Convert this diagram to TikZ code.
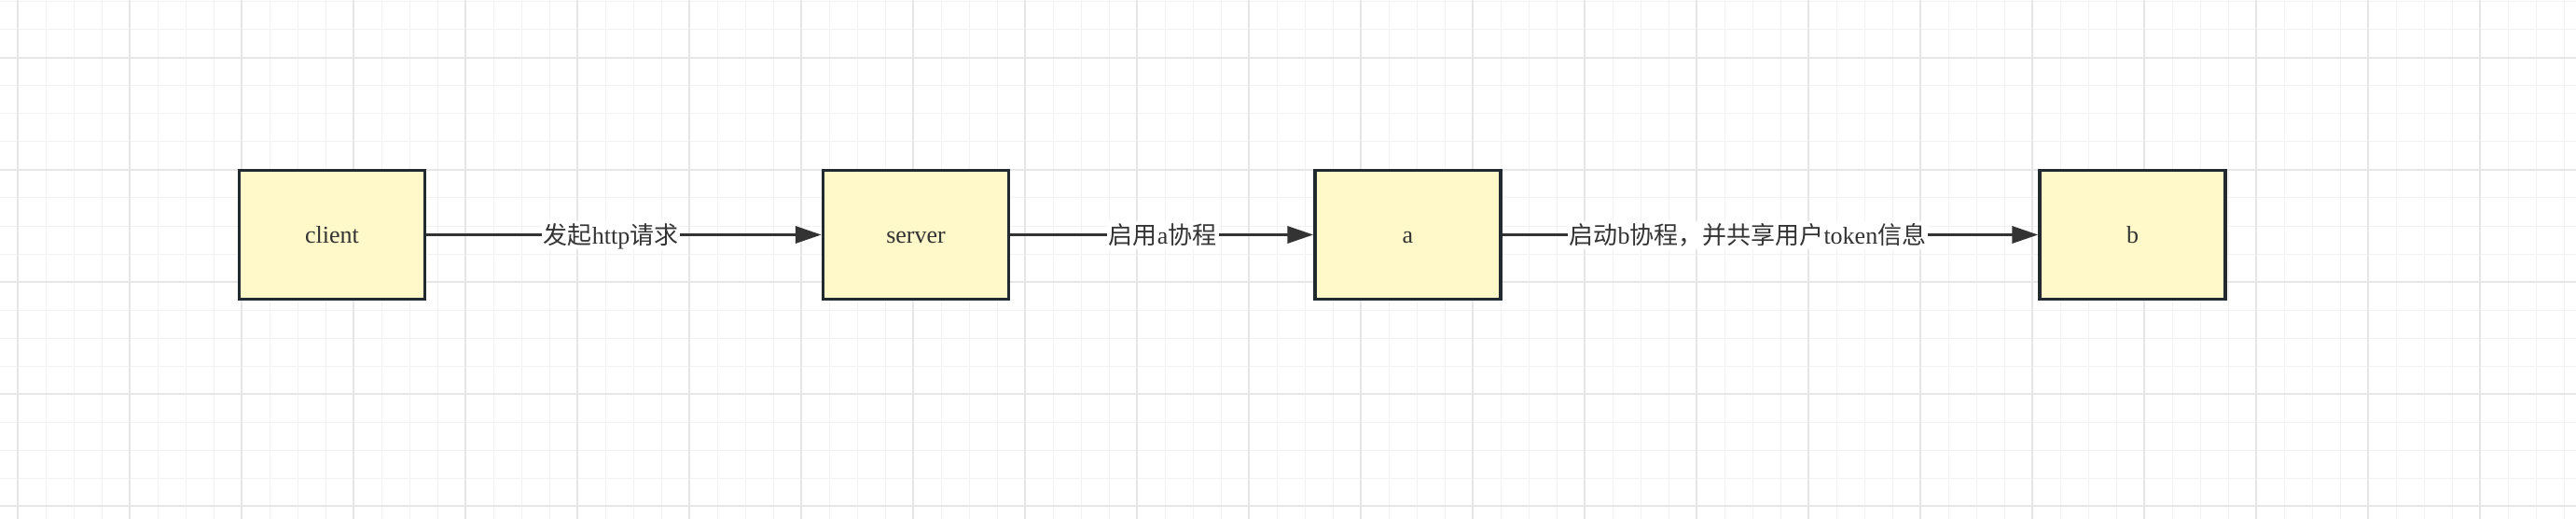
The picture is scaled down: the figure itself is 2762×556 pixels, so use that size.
\documentclass[tikz,border=0pt]{standalone}
\usepackage{fontspec}
\setmainfont{Liberation Serif}
\newfontfamily\cjk{Noto Sans CJK SC}
\usetikzlibrary{arrows.meta}
\definecolor{gridminor}{HTML}{F2F2F2}
\definecolor{gridmajor}{HTML}{E6E6E6}
\definecolor{boxfill}{HTML}{FFF8C9}
\definecolor{boxline}{HTML}{22292F}
\definecolor{txt}{HTML}{333333}
\definecolor{arrcol}{HTML}{333333}
\tikzset{
  procbox/.style={draw=boxline, fill=boxfill, line width=3.5pt, minimum width=199pt, minimum height=138pt, inner sep=0pt, text height=21pt, text depth=4pt, text=txt, font=\fontsize{26}{30}\selectfont},
  flow/.style={draw=arrcol, line width=3.5pt, -{Triangle[length=28pt,width=18pt]}},
  lbl/.style={fill=white, inner sep=2pt, text height=23pt, text depth=3pt, text=txt, font=\fontsize{26}{30}\selectfont},
}
\begin{document}
\begin{tikzpicture}[x=1pt,y=-1pt]
\useasboundingbox (0,0) rectangle (2762,556);
\fill[white] (0,0) rectangle (2762,556);
% grid
\foreach \k in {0,...,91} {\draw[gridminor, line width=1pt] ({19+30*\k},0) -- ({19+30*\k},556);}
\foreach \k in {0,...,18} {\draw[gridminor, line width=1pt] (0,{2+30*\k}) -- (2762,{2+30*\k});}
\foreach \k in {0,...,22} {\draw[gridmajor, line width=1.5pt] ({19+120*\k},0) -- ({19+120*\k},556);}
\foreach \k in {0,...,4} {\draw[gridmajor, line width=1.5pt] (0,{62+120*\k}) -- (2762,{62+120*\k});}
% boxes
\node[procbox] (client) at (356,251.5) {client};
\node[procbox] (server) at (982,251.5) {server};
\node[procbox] (a) at (1509.5,251.5) {a};
\node[procbox] (b) at (2286.5,251.5) {b};
% connectors
\draw[flow] (client.east) -- (server.west) node[lbl, pos=0.467] {{\cjk 发起}http{\cjk 请求}};
\draw[flow] (server.east) -- (a.west) node[lbl, pos=0.503] {{\cjk 启用}a{\cjk 协程}};
\draw[flow] (a.east) -- (b.west) node[lbl, pos=0.458] {{\cjk 启动}b{\cjk 协程，并共享用户}token{\cjk 信息}};
\end{tikzpicture}
\end{document}
